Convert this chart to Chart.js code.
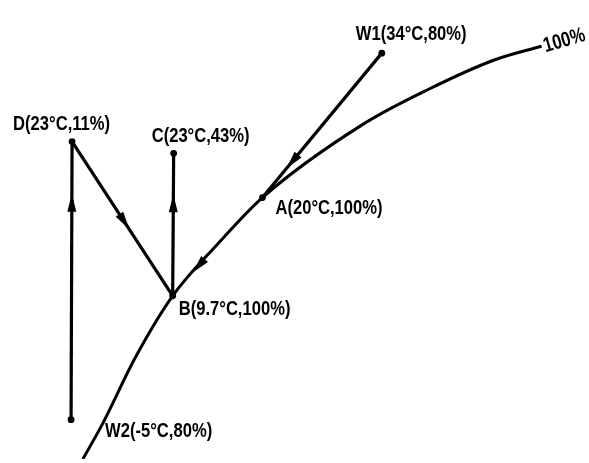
<!DOCTYPE html>
<html>
<head>
<meta charset="utf-8">
<script src="https://cdn.jsdelivr.net/npm/chart.js@4/dist/chart.umd.min.js"></script>
<style>
  html, body { margin: 0; padding: 0; background: #fff; }
  canvas { display: block; }
</style>
</head>
<body>
<canvas id="chart" width="589" height="463"></canvas>
<script>
// Saturation curve (100%), in diagram units (x right, y up)
const curveX = [80, 100, 133, 171, 215, 262, 363, 430, 497, 545];
const curveY = [0, 36, 103, 166, 217, 266, 340, 376, 406, 420];

// State points
const pointNames = ['W1', 'A', 'B', 'C', 'D', 'W2'];
const pointX = [383, 262, 171, 172, 69, 68];
const pointY = [413, 266, 166, 311, 323, 40];
const pointLabels = ['W1(34°C,80%)', 'A(20°C,100%)', 'B(9.7°C,100%)', 'C(23°C,43%)', 'D(23°C,11%)', 'W2(-5°C,80%)'];

// Process lines: from -> to, with where the arrowhead sits
const pathFrom = ['W1', 'D', 'B', 'W2'];
const pathTo = ['A', 'B', 'C', 'D'];
const pathArrowAt = [0.75, 0.52, 0.65, 0.78];

const curveLabel = '100%';

const pt = name => {
  const i = pointNames.indexOf(name);
  return { x: pointX[i], y: pointY[i] };
};

const datasets = [{
  data: curveX.map((x, i) => ({ x, y: curveY[i] })),
  showLine: true,
  cubicInterpolationMode: 'monotone',
  borderColor: '#000',
  borderWidth: 3,
  pointRadius: 0
}];
pathFrom.forEach((f, i) => {
  datasets.push({
    data: [pt(f), pt(pathTo[i])],
    showLine: true,
    borderColor: '#000',
    borderWidth: 3.2,
    pointRadius: 0
  });
});
datasets.push({
  data: pointX.map((x, i) => ({ x, y: pointY[i] })),
  showLine: false,
  pointRadius: 3.4,
  pointBackgroundColor: '#000',
  pointBorderWidth: 0
});

function arrowHead(ctx, x, y, ang) {
  ctx.save();
  ctx.translate(x, y);
  ctx.rotate(ang);
  ctx.beginPath();
  ctx.moveTo(9, 0);
  ctx.lineTo(-9, -4.5);
  ctx.lineTo(-9, 4.5);
  ctx.closePath();
  ctx.fill();
  ctx.restore();
}

const labelOffsets = {
  W1: [-26, -13], A: [13, 16], B: [6, 19], C: [-22, -11], D: [-59, -12], W2: [34, 17]
};

function squeezedText(ctx, text, x, y) {
  ctx.save();
  ctx.translate(x, y);
  ctx.scale(0.79, 1);
  ctx.fillText(text, 0, 0);
  ctx.restore();
}

const decor = {
  id: 'decor',
  afterDatasetsDraw(chart) {
    const ctx = chart.ctx;
    const sx = chart.scales.x, sy = chart.scales.y;
    ctx.save();
    ctx.fillStyle = '#000';
    // arrows on the process lines
    pathFrom.forEach((f, i) => {
      const a = pt(f), b = pt(pathTo[i]);
      const ax = sx.getPixelForValue(a.x), ay = sy.getPixelForValue(a.y);
      const bx = sx.getPixelForValue(b.x), by = sy.getPixelForValue(b.y);
      const t = pathArrowAt[i];
      arrowHead(ctx, ax + (bx - ax) * t, ay + (by - ay) * t, Math.atan2(by - ay, bx - ax));
    });
    // arrow along the saturation curve, from A towards B
    const meta = chart.getDatasetMeta(0).data;
    const p1 = meta[3], p2 = meta[4];
    const mx = p1.x + (p2.x - p1.x) * 0.6, my = p1.y + (p2.y - p1.y) * 0.6;
    arrowHead(ctx, mx, my, Math.atan2(p1.y - p2.y, p1.x - p2.x));

    // point labels
    ctx.font = "bold 21px 'Liberation Sans', Arial, sans-serif";
    ctx.textAlign = 'left';
    ctx.textBaseline = 'alphabetic';
    pointNames.forEach((n, i) => {
      const px = sx.getPixelForValue(pointX[i]), py = sy.getPixelForValue(pointY[i]);
      const o = labelOffsets[n];
      squeezedText(ctx, pointLabels[i], px + o[0], py + o[1]);
    });
    // curve label
    const last = meta[meta.length - 1];
    ctx.translate(last.x + 4, last.y + 6);
    ctx.rotate(-0.28);
    ctx.scale(0.79, 1);
    ctx.fillText(curveLabel, 0, 0);
    ctx.restore();
  }
};

new Chart(document.getElementById('chart'), {
  type: 'scatter',
  data: { datasets },
  options: {
    responsive: false,
    animation: false,
    devicePixelRatio: 1,
    layout: { padding: 0 },
    plugins: { legend: { display: false }, tooltip: { enabled: false } },
    scales: {
      x: { type: 'linear', min: 0, max: 589, display: false },
      y: { type: 'linear', min: 0, max: 463, display: false }
    }
  },
  plugins: [decor]
});
</script>
</body>
</html>
